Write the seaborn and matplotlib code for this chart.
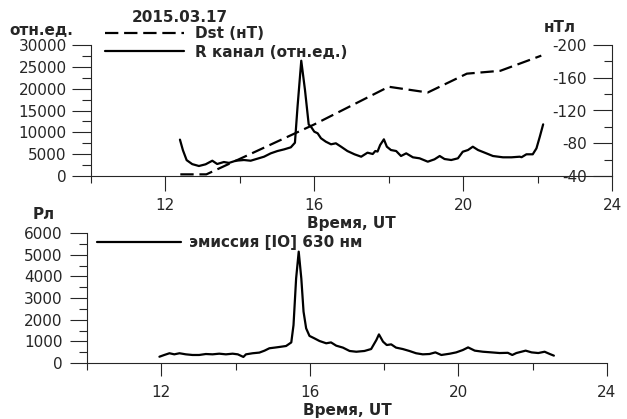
import numpy as np
import matplotlib
matplotlib.use("Agg")
import matplotlib.pyplot as plt
import seaborn as sns
from matplotlib.ticker import FixedLocator

# R channel (rel. units), 2015.03.17
r_time = [12.39, 12.47, 12.57, 12.72, 12.90, 13.08, 13.26, 13.39, 13.57, 13.71,
          13.89, 14.11, 14.29, 14.47, 14.65, 14.83, 15.01, 15.19, 15.37, 15.48,
          15.55, 15.65, 15.75, 15.85, 15.91, 16.00, 16.09, 16.18, 16.31, 16.45,
          16.58, 16.72, 16.89, 17.08, 17.26, 17.43, 17.57, 17.64, 17.70, 17.77,
          17.87, 17.95, 18.06, 18.20, 18.33, 18.47, 18.65, 18.83, 19.05, 19.23,
          19.37, 19.50, 19.68, 19.86, 19.99, 20.13, 20.26, 20.40, 20.58, 20.80,
          21.07, 21.30, 21.52, 21.57, 21.70, 21.87, 21.97, 22.06, 22.15]
r_value = [8330, 5900, 3630, 2720, 2290, 2680, 3500, 2750, 3200, 3000,
           3500, 3660, 3500, 3960, 4420, 5190, 5720, 6100, 6570, 7620,
           15870, 26400, 19700, 11800, 11300, 10150, 9780, 8640, 7860, 7260,
           7490, 6710, 5720, 4970, 4420, 5340, 5040, 5720, 5600, 7100,
           8400, 6710, 5950, 5720, 4580, 5190, 4280, 4050, 3280, 3820,
           4580, 3890, 3660, 4050, 5560, 5950, 6710, 5950, 5340, 4580,
           4280, 4280, 4420, 4300, 4970, 4970, 6330, 9000, 11830]

# Dst index (nT)
dst_time = [12.4, 13.1, 16.0, 18.0, 19.05, 20.1, 21.0, 22.1]
dst_value = [-42, -42, -103, -149, -142, -165, -168.5, -187]

# [OI] 630 nm emission (Rayleigh)
em_time = [11.95, 12.08, 12.22, 12.35, 12.49, 12.66, 12.84, 13.02, 13.20, 13.38,
           13.56, 13.74, 13.92, 14.06, 14.21, 14.28, 14.46, 14.64, 14.78, 14.91,
           15.05, 15.18, 15.36, 15.50, 15.56, 15.63, 15.70, 15.77, 15.83, 15.90,
           15.99, 16.12, 16.26, 16.44, 16.57, 16.71, 16.89, 17.07, 17.25, 17.47,
           17.65, 17.79, 17.86, 17.97, 18.07, 18.19, 18.32, 18.50, 18.68, 18.86,
           19.04, 19.22, 19.38, 19.54, 19.77, 19.94, 20.12, 20.26, 20.44, 20.66,
           20.89, 21.11, 21.33, 21.45, 21.56, 21.81, 21.97, 22.15, 22.32, 22.46,
           22.57]
em_value = [290, 370, 450, 400, 450, 400, 370, 370, 415, 400,
            430, 400, 430, 400, 280, 400, 450, 480, 570, 680,
            710, 740, 785, 950, 1750, 3900, 5140, 3900, 2370, 1600,
            1250, 1140, 1015, 910, 950, 800, 710, 555, 520, 555,
            645, 1060, 1320, 985, 830, 860, 710, 645, 555, 450,
            400, 415, 490, 370, 430, 490, 600, 720, 570, 520,
            490, 460, 470, 370, 460, 570, 490, 460, 520, 415,
            340]

x_major = [12, 16, 20, 24]
x_minor = [10, 14, 18, 22]

sns.set_style("ticks")
plt.rcParams["font.family"] = ["DejaVu Sans"]
plt.rcParams["font.size"] = 11
plt.rcParams["axes.linewidth"] = 0.8

W, H = 627, 419
fig = plt.figure(figsize=(W / 100, H / 100), dpi=100)

ax = fig.add_axes([91 / W, 1 - 176 / H, 521 / W, 131 / H])
ax2 = ax.twinx()
axb = fig.add_axes([87 / W, 1 - 363 / H, 520 / W, 130 / H])

sns.lineplot(x=r_time, y=r_value, ax=ax, color="black", lw=1.6,
             estimator=None, sort=False)
sns.lineplot(x=dst_time, y=dst_value, ax=ax2, color="black", lw=1.6,
             linestyle=(0, (6, 2.6)), estimator=None, sort=False)
sns.lineplot(x=em_time, y=em_value, ax=axb, color="black", lw=1.6,
             estimator=None, sort=False)

# top panel axes
ax.set_xlim(10, 24)
ax.set_ylim(0, 30000)
ax2.set_ylim(-40, -200)
for a in (ax, axb):
    a.xaxis.set_major_locator(FixedLocator(x_major))
    a.xaxis.set_minor_locator(FixedLocator(x_minor))
    a.spines["top"].set_visible(False)
    a.spines["right"].set_visible(False)
ax.yaxis.set_major_locator(FixedLocator(np.arange(0, 30001, 5000)))
ax.yaxis.set_minor_locator(FixedLocator(np.arange(2500, 30000, 5000)))
ax.tick_params(axis="x", which="major", length=10.8, width=0.8, pad=5)
ax.tick_params(axis="x", which="minor", length=5, width=0.8)
ax.tick_params(axis="y", which="major", length=13.5, width=0.8, pad=4)
ax.tick_params(axis="y", which="minor", length=6.5, width=0.8)

for s in ("top", "left", "bottom"):
    ax2.spines[s].set_visible(False)
ax2.yaxis.set_major_locator(FixedLocator([-40, -80, -120, -160, -200]))
ax2.yaxis.set_minor_locator(FixedLocator([-60, -100, -140, -180]))
ax2.tick_params(axis="y", which="major", direction="in", length=13.5,
                width=0.8, pad=-18)
ax2.tick_params(axis="y", which="minor", direction="in", length=6, width=0.8)
ax2.set_yticklabels(["-40", "-80", "-120", "-160", "-200"])
for lbl in ax2.get_yticklabels():
    lbl.set_horizontalalignment("right")

ax.set_xlabel("Время, UT", fontweight="bold", va="center")
ax.xaxis.set_label_coords(0.5, -0.36)
ax.set_ylabel("отн.ед.", fontweight="bold", rotation=0, ha="center", va="center")
ax.yaxis.set_label_coords(-0.095, 1.107)
ax2.set_ylabel("нТл", fontweight="bold", rotation=0, ha="center", va="center")
ax2.yaxis.set_label_coords(0.90, 1.13)
fig.suptitle("2015.03.17", x=180 / W, y=1 - 17 / H, va="center",
             fontsize=11, fontweight="bold")

ax2.legend([ax2.lines[0], ax.lines[0]], ["Dst (нТ)", "R канал (отн.ед.)"],
           loc="upper left", bbox_to_anchor=(105 / W, 1 - 26 / H),
           bbox_transform=fig.transFigure, frameon=False, borderpad=0,
           borderaxespad=0, handlelength=5.2, handletextpad=0.7,
           labelspacing=0.25, prop={"weight": "bold", "size": 11})

# bottom panel axes
axb.set_xlim(10, 24)
axb.set_ylim(0, 6000)
axb.yaxis.set_major_locator(FixedLocator(np.arange(0, 6001, 1000)))
axb.yaxis.set_minor_locator(FixedLocator(np.arange(500, 6000, 1000)))
axb.tick_params(axis="x", which="major", length=9, width=0.8, pad=7)
axb.tick_params(axis="x", which="minor", length=5, width=0.8)
axb.tick_params(axis="y", which="major", length=12, width=0.8, pad=5.5)
axb.tick_params(axis="y", which="minor", length=5.5, width=0.8)
axb.set_xlabel("Время, UT", fontweight="bold", va="center")
axb.xaxis.set_label_coords(0.5, -0.362)
axb.set_ylabel("Рл", fontweight="bold", rotation=0, ha="center", va="center")
axb.yaxis.set_label_coords(-0.083, 1.146)
axb.legend([axb.lines[0]], ["эмиссия [IO] 630 нм"], loc="upper left",
           bbox_to_anchor=(97 / W, 1 - 235 / H), bbox_transform=fig.transFigure,
           frameon=False, borderpad=0, borderaxespad=0, handlelength=5.5,
           handletextpad=0.5, prop={"weight": "bold", "size": 11})

fig.savefig("out.png", dpi=100)
